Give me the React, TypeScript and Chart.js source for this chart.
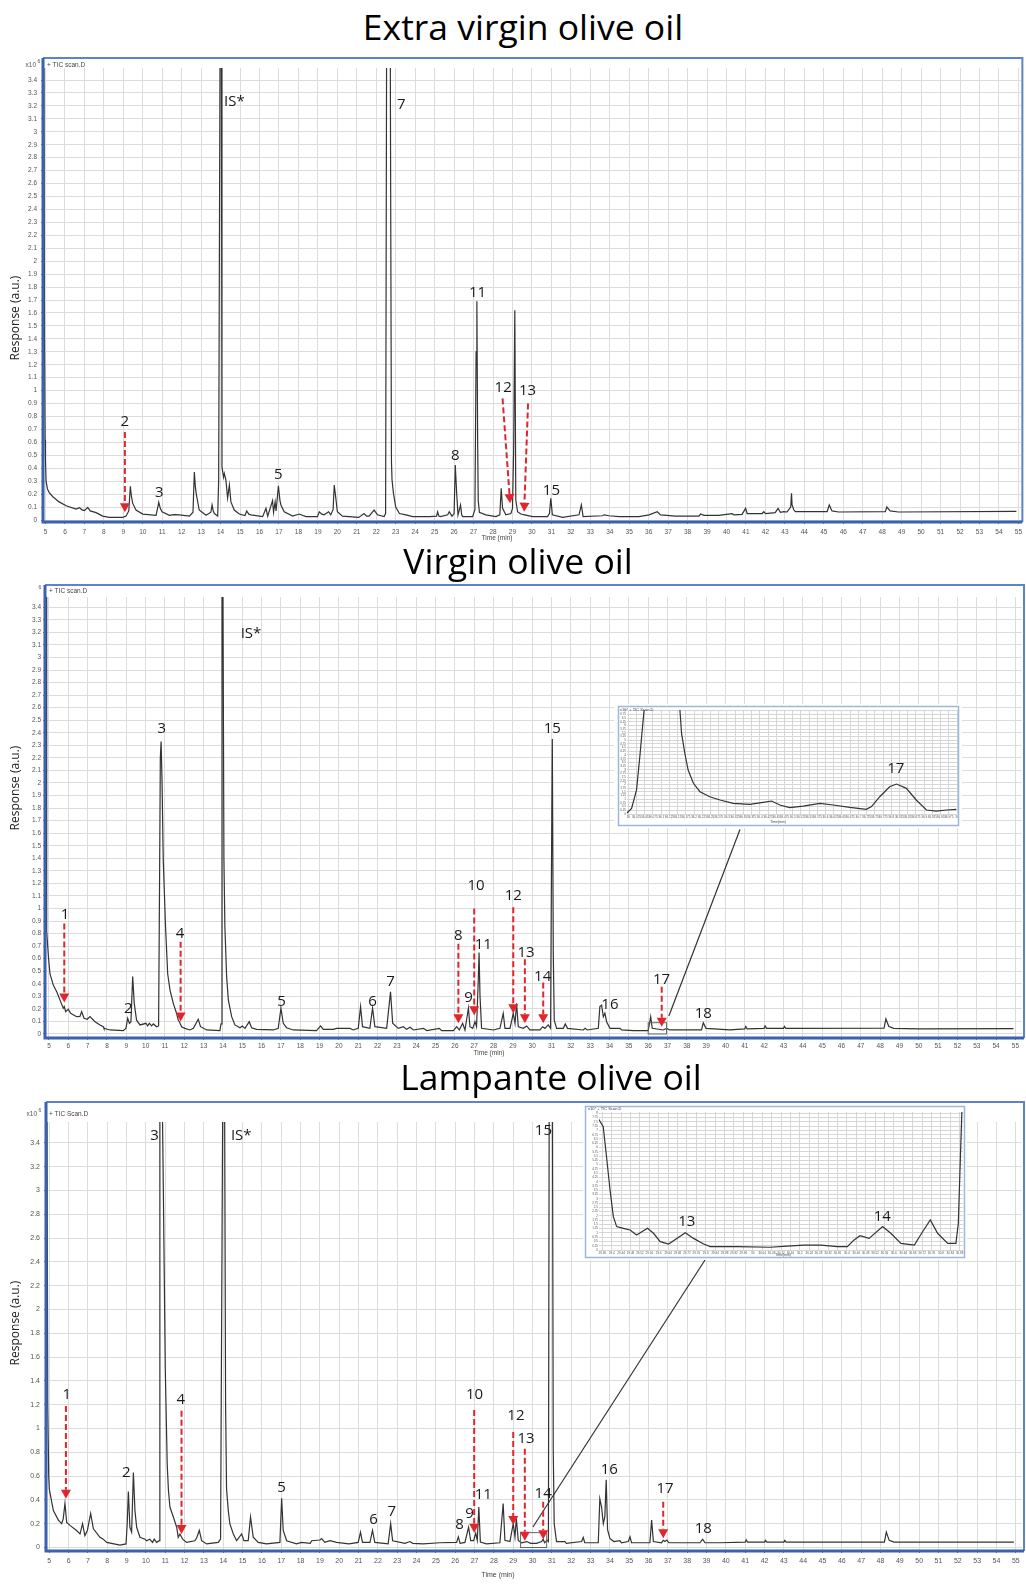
import React, { useEffect, useRef } from 'react';
import { Chart, registerables } from 'chart.js';
Chart.register(...registerables);

type Pt = [number, number];

// ---------------- DATA ----------------
const panelTitles = ['Extra virgin olive oil', 'Virgin olive oil', 'Lampante olive oil'];
const yAxisTitle = 'Response (a.u.)';
const xAxisTitle = 'Time (min)';

const evooTrace: Pt[] = [
  [4.92, 3.6], [4.95, 1.4], [4.98, 0.62], [5.0, 0.46], [5.03, 0.3], [5.1, 0.24], [5.2, 0.21], [5.38, 0.18],
  [5.7, 0.14], [6.06, 0.11], [6.57, 0.085], [6.75, 0.095], [6.88, 0.078], [7.0, 0.072], [7.17, 0.097],
  [7.3, 0.07], [7.6, 0.057], [7.94, 0.03], [8.28, 0.02], [8.97, 0.02], [9.14, 0.03], [9.28, 0.07],
  [9.36, 0.26], [9.42, 0.18], [9.48, 0.13], [9.65, 0.077], [10.0, 0.046], [10.68, 0.036], [10.76, 0.09],
  [10.82, 0.137], [10.9, 0.09], [10.99, 0.064], [11.37, 0.036], [11.6, 0.042], [11.88, 0.04], [12.4, 0.03],
  [12.58, 0.06], [12.65, 0.37], [12.7, 0.26], [12.75, 0.2], [12.9, 0.077], [13.25, 0.036], [13.5, 0.06],
  [13.56, 0.116], [13.62, 0.07], [13.68, 0.05], [13.85, 0.03], [13.9, 0.31], [13.97, 3.6], [14.04, 3.6],
  [14.07, 0.41], [14.12, 0.36], [14.15, 0.33], [14.19, 0.36], [14.27, 0.31], [14.36, 0.17], [14.45, 0.27],
  [14.53, 0.14], [14.7, 0.077], [14.96, 0.046], [15.25, 0.035], [15.34, 0.07], [15.45, 0.045], [15.56, 0.04],
  [16.16, 0.026], [16.33, 0.09], [16.42, 0.03], [16.67, 0.15], [16.72, 0.06], [16.8, 0.14], [16.85, 0.07],
  [16.97, 0.265], [17.05, 0.15], [17.1, 0.116], [17.27, 0.064], [17.7, 0.03], [18.04, 0.046], [18.38, 0.026],
  [18.98, 0.026], [19.07, 0.064], [19.2, 0.045], [19.32, 0.04], [19.55, 0.064], [19.66, 0.04], [19.78, 0.08],
  [19.84, 0.27], [19.92, 0.17], [20.0, 0.064], [20.26, 0.03], [21.1, 0.02], [21.37, 0.05], [21.5, 0.03],
  [21.63, 0.03], [21.89, 0.077], [22.06, 0.04], [22.4, 0.026], [22.48, 0.05], [22.53, 3.6], [22.72, 3.6],
  [22.78, 0.45], [22.81, 0.31], [22.88, 0.21], [23.0, 0.1], [23.19, 0.05], [23.53, 0.04], [23.87, 0.026],
  [24.73, 0.026], [25.1, 0.03], [25.15, 0.064], [25.22, 0.03], [25.3, 0.026], [25.67, 0.04], [25.75, 0.064],
  [25.89, 0.03], [26.0, 0.05], [26.06, 0.425], [26.13, 0.21], [26.2, 0.04], [26.33, 0.116], [26.39, 0.04],
  [26.44, 0.026], [26.95, 0.026], [27.07, 0.08], [27.13, 1.3], [27.17, 1.69], [27.21, 0.6], [27.24, 0.15],
  [27.3, 0.06], [27.63, 0.04], [28.15, 0.026], [28.35, 0.04], [28.42, 0.245], [28.49, 0.09], [28.66, 0.04],
  [28.92, 0.05], [29.0, 0.09], [29.06, 0.54], [29.12, 1.62], [29.17, 0.155], [29.26, 0.064], [29.43, 0.046],
  [29.63, 0.04], [30.03, 0.026], [30.8, 0.026], [30.9, 0.05], [30.97, 0.167], [31.05, 0.04], [31.57, 0.02],
  [32.42, 0.04], [32.54, 0.116], [32.63, 0.026], [33.62, 0.033], [33.71, 0.04], [33.96, 0.033], [34.48, 0.026],
  [35.5, 0.026], [36.02, 0.04], [36.44, 0.064], [36.61, 0.04], [37.38, 0.03], [38.58, 0.03], [38.67, 0.046],
  [38.84, 0.036], [39.26, 0.036], [39.6, 0.036], [40.29, 0.05], [40.38, 0.04], [40.8, 0.044], [40.98, 0.09],
  [41.06, 0.05], [41.83, 0.05], [41.92, 0.064], [42.0, 0.05], [42.5, 0.057], [42.65, 0.09], [42.77, 0.06],
  [42.94, 0.064], [43.11, 0.062], [43.3, 0.1], [43.34, 0.206], [43.37, 0.116], [43.46, 0.077], [43.54, 0.064],
  [45.17, 0.064], [45.28, 0.116], [45.42, 0.07], [45.76, 0.062], [48.16, 0.064], [48.24, 0.1], [48.41, 0.07],
  [48.84, 0.062], [54.9, 0.067],
];

const vooTrace: Pt[] = [
  [4.86, 3.6], [4.88, 0.82], [4.97, 0.616], [5.05, 0.48], [5.22, 0.39], [5.4, 0.337], [5.57, 0.27],
  [5.74, 0.205], [5.79, 0.218], [5.86, 0.178], [6.0, 0.197], [6.12, 0.165], [6.43, 0.138], [6.6, 0.14],
  [6.69, 0.178], [6.81, 0.125], [6.98, 0.117], [7.12, 0.138], [7.38, 0.098], [7.64, 0.072], [7.81, 0.058],
  [7.84, 0.045], [8.16, 0.032], [8.84, 0.027], [8.98, 0.045], [9.07, 0.125], [9.16, 0.085], [9.24, 0.098],
  [9.33, 0.457], [9.41, 0.244], [9.53, 0.11], [9.71, 0.072], [10.02, 0.085], [10.1, 0.064], [10.19, 0.085],
  [10.31, 0.064], [10.4, 0.08], [10.57, 0.058], [10.67, 0.064], [10.72, 1.2], [10.76, 2.2], [10.8, 2.33],
  [10.85, 2.0], [10.91, 1.39], [11.03, 0.855], [11.14, 0.48], [11.26, 0.35], [11.43, 0.244], [11.6, 0.165],
  [11.69, 0.11], [11.74, 0.1], [11.78, 0.085], [11.86, 0.058], [12.03, 0.045], [12.29, 0.032], [12.47, 0.045],
  [12.72, 0.117], [12.84, 0.058], [13.16, 0.032], [13.84, 0.027], [13.9, 0.08], [13.95, 3.6], [14.0, 3.6],
  [14.05, 1.39], [14.1, 0.855], [14.19, 0.457], [14.28, 0.27], [14.45, 0.138], [14.62, 0.072], [14.88, 0.05],
  [15.0, 0.064], [15.14, 0.045], [15.36, 0.098], [15.48, 0.05], [15.74, 0.037], [16.6, 0.032], [16.86, 0.045],
  [17.0, 0.205], [17.12, 0.085], [17.29, 0.05], [17.64, 0.032], [18.84, 0.027], [19.05, 0.064], [19.19, 0.037],
  [19.7, 0.037], [19.88, 0.045], [20.57, 0.045], [20.74, 0.032], [21.0, 0.045], [21.12, 0.218], [21.22, 0.058],
  [21.6, 0.045], [21.74, 0.205], [21.86, 0.058], [22.47, 0.045], [22.67, 0.337], [22.78, 0.085], [23.07, 0.045],
  [23.33, 0.058], [23.5, 0.037], [23.68, 0.053], [23.85, 0.032], [24.37, 0.045], [24.55, 0.027], [25.19, 0.045],
  [25.32, 0.027], [25.92, 0.027], [26.09, 0.058], [26.23, 0.032], [26.4, 0.085], [26.52, 0.032], [26.7, 0.205],
  [26.78, 0.058], [26.92, 0.045], [27.04, 0.098], [27.12, 0.058], [27.21, 0.43], [27.25, 0.65], [27.3, 0.3],
  [27.38, 0.045], [27.99, 0.032], [28.33, 0.045], [28.5, 0.165], [28.59, 0.045], [28.85, 0.045], [29.02, 0.165],
  [29.11, 0.085], [29.19, 0.244], [29.28, 0.058], [29.54, 0.045], [29.71, 0.064], [29.88, 0.032], [30.4, 0.032],
  [30.54, 0.058], [30.66, 0.045], [30.83, 0.072], [30.95, 0.045], [31.0, 1.4], [31.04, 2.35], [31.09, 0.64],
  [31.14, 0.11], [31.26, 0.045], [31.61, 0.045], [31.71, 0.08], [31.83, 0.045], [32.64, 0.032], [32.74, 0.045],
  [32.85, 0.032], [33.42, 0.045], [33.5, 0.218], [33.59, 0.23], [33.68, 0.138], [33.76, 0.165], [33.85, 0.098],
  [34.02, 0.045], [34.54, 0.045], [34.63, 0.032], [35.23, 0.027], [36.0, 0.027], [36.13, 0.138], [36.21, 0.045],
  [36.78, 0.032], [36.95, 0.045], [37.12, 0.032], [38.76, 0.032], [38.85, 0.09], [38.99, 0.045], [40.23, 0.032],
  [41.0, 0.04], [41.05, 0.06], [41.12, 0.04], [42.0, 0.045], [42.05, 0.065], [42.12, 0.045], [43.0, 0.045],
  [43.05, 0.06], [43.12, 0.045], [48.2, 0.047], [48.3, 0.12], [48.45, 0.06], [48.7, 0.045], [50.0, 0.04],
  [54.9, 0.042],
];

const lampTrace: Pt[] = [
  [4.88, 3.7], [4.92, 1.2], [4.97, 0.6], [5.0, 0.49], [5.21, 0.31], [5.47, 0.23], [5.64, 0.2], [5.72, 0.24],
  [5.81, 0.37], [5.9, 0.21], [6.07, 0.186], [6.41, 0.143], [6.59, 0.114], [6.72, 0.2], [6.84, 0.1],
  [6.97, 0.143], [7.14, 0.286], [7.28, 0.157], [7.62, 0.086], [7.79, 0.07], [7.97, 0.043], [8.66, 0.02],
  [8.97, 0.03], [9.03, 0.2], [9.09, 0.47], [9.17, 0.17], [9.26, 0.13], [9.35, 0.63], [9.43, 0.31], [9.52, 0.17],
  [9.69, 0.086], [9.95, 0.07], [10.03, 0.057], [10.2, 0.07], [10.34, 0.043], [10.43, 0.07], [10.55, 0.043],
  [10.69, 0.057], [10.72, 3.7], [10.85, 3.7], [10.9, 3.0], [11.0, 1.5], [11.1, 0.7], [11.16, 0.49], [11.24, 0.34],
  [11.41, 0.26], [11.59, 0.17], [11.67, 0.086], [11.76, 0.114], [11.9, 0.07], [12.1, 0.043], [12.53, 0.057],
  [12.62, 0.08], [12.76, 0.143], [12.88, 0.057], [13.14, 0.03], [13.74, 0.043], [13.86, 0.07], [13.97, 3.7],
  [14.07, 3.7], [14.12, 1.2], [14.17, 0.49], [14.26, 0.31], [14.34, 0.2], [14.52, 0.114], [14.69, 0.057],
  [14.95, 0.114], [15.07, 0.057], [15.29, 0.057], [15.41, 0.257], [15.55, 0.086], [15.81, 0.043], [16.24, 0.03],
  [16.93, 0.043], [17.02, 0.414], [17.1, 0.143], [17.28, 0.057], [17.79, 0.03], [18.05, 0.043], [18.5, 0.035],
  [18.57, 0.057], [19.0, 0.063], [19.09, 0.075], [19.25, 0.043], [19.52, 0.057], [19.86, 0.043], [20.5, 0.03],
  [20.98, 0.043], [21.1, 0.129], [21.2, 0.043], [21.59, 0.043], [21.72, 0.143], [21.84, 0.043], [22.53, 0.03],
  [22.66, 0.2], [22.76, 0.057], [23.4, 0.035], [23.66, 0.05], [23.8, 0.035], [24.34, 0.03], [25.2, 0.04],
  [26.07, 0.043], [26.16, 0.09], [26.25, 0.035], [26.5, 0.043], [26.69, 0.17], [26.8, 0.057], [26.95, 0.057],
  [27.06, 0.12], [27.14, 0.06], [27.22, 0.34], [27.3, 0.045], [27.62, 0.03], [28.31, 0.04], [28.48, 0.37],
  [28.57, 0.06], [28.83, 0.05], [29.0, 0.2], [29.09, 0.09], [29.16, 0.245], [29.26, 0.06], [29.43, 0.04],
  [29.7, 0.05], [29.9, 0.035], [30.21, 0.035], [30.47, 0.05], [30.55, 0.07], [30.62, 0.04], [30.76, 0.06],
  [30.82, 0.05], [30.86, 3.7], [31.03, 3.7], [31.07, 0.82], [31.12, 0.2], [31.24, 0.05], [31.67, 0.05],
  [31.75, 0.035], [32.54, 0.05], [32.62, 0.085], [32.7, 0.04], [33.4, 0.04], [33.48, 0.41], [33.57, 0.34],
  [33.66, 0.2], [33.74, 0.26], [33.81, 0.57], [33.88, 0.15], [34.0, 0.077], [34.2, 0.05], [34.52, 0.058],
  [34.6, 0.04], [34.95, 0.05], [35.04, 0.09], [35.12, 0.04], [36.07, 0.04], [36.16, 0.23], [36.25, 0.05],
  [36.67, 0.04], [36.76, 0.06], [36.85, 0.05], [36.95, 0.062], [37.05, 0.04], [38.66, 0.04], [38.8, 0.07],
  [38.92, 0.04], [39.69, 0.04], [41.0, 0.045], [41.05, 0.065], [41.12, 0.045], [42.0, 0.045], [42.05, 0.06],
  [42.12, 0.045], [43.0, 0.045], [43.05, 0.06], [43.12, 0.045], [48.2, 0.045], [48.3, 0.13], [48.45, 0.06],
  [48.7, 0.045], [54.9, 0.045],
];

// zoomed insets (inset units)
const vooInsetTrace: Pt[] = [
  [35.995, 0.05], [36.01, 0.38], [36.025, 1.63], [36.035, 3.88], [36.044, 6.1], [36.052, 8.0], [36.1, 14],
  [36.15, 8.5], [36.157, 7.05], [36.162, 5.46], [36.172, 4.1], [36.182, 2.98], [36.198, 2.08], [36.218, 1.51],
  [36.248, 1.17], [36.279, 0.95], [36.319, 0.72], [36.37, 0.65], [36.41, 0.79], [36.436, 0.88], [36.461, 0.61],
  [36.491, 0.43], [36.532, 0.54], [36.583, 0.72], [36.623, 0.61], [36.674, 0.45], [36.724, 0.32], [36.74, 0.5],
  [36.765, 1.17], [36.795, 1.85], [36.816, 2.03], [36.846, 1.74], [36.876, 0.95], [36.907, 0.27], [36.937, 0.2],
  [36.968, 0.27], [36.998, 0.32],
];

const lampInsetTrace: Pt[] = [
  [29.336, 7.41], [29.347, 7.61], [29.364, 7.22], [29.378, 5.46], [29.393, 3.51], [29.407, 1.95], [29.421, 1.37],
  [29.45, 1.27], [29.478, 1.17], [29.506, 0.88], [29.528, 1.07], [29.552, 1.27], [29.578, 0.98], [29.606, 0.49],
  [29.642, 0.35], [29.677, 0.68], [29.713, 1.01], [29.748, 0.68], [29.791, 0.35], [29.819, 0.2], [29.933, 0.2],
  [30.075, 0.16], [30.146, 0.23], [30.217, 0.29], [30.289, 0.29], [30.36, 0.2], [30.402, 0.2], [30.431, 0.59],
  [30.456, 0.84], [30.495, 0.68], [30.552, 1.37], [30.587, 0.98], [30.63, 0.39], [30.687, 0.29], [30.722, 1.07],
  [30.755, 1.76], [30.786, 0.98], [30.829, 0.39], [30.864, 0.39], [30.874, 1.56], [30.883, 5.46], [30.889, 8.0],
  [30.895, 9.0],
];

// peak labels: [text, time, response]
const evooLabels: [string, number, number][] = [
  ['2', 9.08, 0.76], ['3', 10.85, 0.214], ['IS*', 14.71, 3.23], ['5', 16.97, 0.348], ['7', 23.29, 3.21],
  ['8', 26.06, 0.495], ['11', 27.2, 1.76], ['12', 28.52, 1.02], ['13', 29.77, 1.0], ['15', 31.0, 0.227],
];
const vooLabels: [string, number, number][] = [
  ['1', 5.83, 0.95], ['2', 9.1, 0.2], ['3', 10.83, 2.43], ['4', 11.78, 0.8], ['IS*', 15.45, 3.19],
  ['5', 17.03, 0.26], ['6', 21.74, 0.26], ['7', 22.67, 0.42], ['8', 26.18, 0.78], ['9', 26.7, 0.29],
  ['10', 27.09, 1.18], ['11', 27.47, 0.71], ['12', 29.02, 1.1], ['13', 29.68, 0.65], ['14', 30.54, 0.46],
  ['15', 31.04, 2.43], ['16', 34.02, 0.23], ['17', 36.69, 0.43], ['18', 38.85, 0.165],
];
const lampLabels: [string, number, number][] = [
  ['1', 5.9, 1.28], ['2', 8.98, 0.63], ['3', 10.44, 3.46], ['4', 11.8, 1.24], ['IS*', 14.93, 3.46],
  ['5', 17.02, 0.5], ['6', 21.78, 0.23], ['7', 22.72, 0.3], ['8', 26.22, 0.19], ['9', 26.74, 0.28],
  ['10', 27.0, 1.28], ['11', 27.45, 0.44], ['12', 29.14, 1.11], ['13', 29.66, 0.91], ['14', 30.55, 0.455],
  ['15', 30.56, 3.5], ['16', 33.97, 0.65], ['17', 36.85, 0.49], ['18', 38.83, 0.16],
];
const vooInsetLabels: [string, number, number][] = [['17', 36.814, 3.1]];
const lampInsetLabels: [string, number, number][] = [['13', 29.719, 1.66], ['14', 30.551, 1.95]];

// red dashed arrows: [tStart, rStart, tTip, rTip]
const evooArrows: [number, number, number, number][] = [
  [9.08, 0.68, 9.08, 0.06], [28.49, 0.94, 28.88, 0.13], [29.8, 0.9, 29.6, 0.064],
];
const vooArrows: [number, number, number, number][] = [
  [5.79, 0.88, 5.79, 0.25], [11.81, 0.735, 11.81, 0.1], [26.18, 0.72, 26.18, 0.085], [27.0, 1.0, 27.0, 0.15],
  [29.02, 1.01, 29.02, 0.165], [29.62, 0.595, 29.62, 0.085], [30.57, 0.41, 30.57, 0.085], [36.7, 0.377, 36.7, 0.058],
];
const lampArrows: [number, number, number, number][] = [
  [5.86, 1.19, 5.86, 0.41], [11.84, 1.15, 11.84, 0.114], [26.98, 1.155, 26.98, 0.125], [29.0, 0.97, 29.0, 0.19],
  [29.6, 0.83, 29.6, 0.057], [30.55, 0.385, 30.55, 0.07], [36.76, 0.385, 36.76, 0.077],
];

// zoom boxes [t0, r0, t1, r1] and connector lines [t0, r0, t1, r1]
const vooZoomBox: [number, number, number, number][] = [[36.0, 0.0, 36.95, 0.09]];
const vooConnector: [number, number, number, number][] = [[37.07, 0.143, 40.75, 1.63]];
const lampZoomBox: [number, number, number, number][] = [[29.38, 0.0, 30.73, 0.125]];
const lampConnector: [number, number, number, number][] = [[30.02, 0.172, 38.92, 2.416]];

// ---------------- STYLE / LAYOUT ----------------
const FONT = "'Open Sans', 'Noto Sans', sans-serif";
const TICK_FONT = "'Liberation Sans', Arial, sans-serif";
const RED = '#e0262c';
const TRACE = '#333333';

type Cfg = {
  left: number; top: number; width: number; height: number;
  area: { left: number; top: number; right: number; bottom: number };
  xMin: number; xMax: number; yMin: number; yMax: number; xStep: number; yStep: number;
  trace: Pt[]; labels: [string, number, number][];
  arrows?: [number, number, number, number][];
  boxes?: [number, number, number, number][];
  connectors?: [number, number, number, number][];
  frame: { l: number; t: number; r: number; b: number; inset?: boolean };
  tickSize: number; tickPad: number; tickLen: number; gridColor: string;
  labelSize: number; background?: string;
  draw: (ctx: CanvasRenderingContext2D) => void;
};

function fmt(v: number) {
  return String(Math.round(v * 1000) / 1000);
}

function drawArrow(ctx: CanvasRenderingContext2D, x0: number, y0: number, x1: number, y1: number) {
  const dx = x1 - x0, dy = y1 - y0;
  const len = Math.hypot(dx, dy) || 1;
  const ux = dx / len, uy = dy / len;
  const hl = 9, hw = 5;
  const bx = x1 - ux * hl, by = y1 - uy * hl;
  ctx.save();
  ctx.strokeStyle = RED;
  ctx.lineWidth = 2;
  ctx.setLineDash([6, 3]);
  ctx.beginPath(); ctx.moveTo(x0, y0); ctx.lineTo(bx, by); ctx.stroke();
  ctx.setLineDash([]);
  ctx.fillStyle = RED;
  ctx.beginPath();
  ctx.moveTo(x1, y1);
  ctx.lineTo(bx - uy * hw, by + ux * hw);
  ctx.lineTo(bx + uy * hw, by - ux * hw);
  ctx.closePath(); ctx.fill();
  ctx.restore();
}

function text(ctx: CanvasRenderingContext2D, s: string, x: number, y: number, font: string, align: CanvasTextAlign = 'left', color = '#444') {
  ctx.save();
  ctx.font = font; ctx.fillStyle = color; ctx.textAlign = align; ctx.textBaseline = 'middle';
  ctx.fillText(s, x, y);
  ctx.restore();
}

function makePlugin(cfg: Cfg) {
  return {
    id: 'decor',
    beforeDraw(chart: any) {
      if (cfg.background) {
        const c = chart.ctx;
        c.save(); c.fillStyle = cfg.background; c.fillRect(0, 0, chart.width, chart.height); c.restore();
      }
    },
    afterDraw(chart: any) {
      const ctx: CanvasRenderingContext2D = chart.ctx;
      const xs = chart.scales.x, ys = chart.scales.y;
      const px = (v: number) => xs.getPixelForValue(v);
      const py = (v: number) => ys.getPixelForValue(v);
      const a = chart.chartArea;
      (cfg.boxes || []).forEach(([t0, r0, t1, r1]) => {
        ctx.save(); ctx.strokeStyle = '#666'; ctx.lineWidth = 1;
        ctx.strokeRect(px(t0), py(r1), px(t1) - px(t0), py(r0) - py(r1));
        ctx.restore();
      });
      (cfg.connectors || []).forEach(([t0, r0, t1, r1]) => {
        ctx.save(); ctx.strokeStyle = '#333'; ctx.lineWidth = 1.2;
        ctx.beginPath(); ctx.moveTo(px(t0), py(r0)); ctx.lineTo(px(t1), py(r1)); ctx.stroke();
        ctx.restore();
      });
      (cfg.arrows || []).forEach(([t0, r0, t1, r1]) => drawArrow(ctx, px(t0), py(r0), px(t1), py(r1)));
      cfg.labels.forEach(([s, t, r]) => text(ctx, s, px(t), py(r), `${cfg.labelSize}px ${FONT}`, 'center', '#1a1a1a'));
      // frame
      const f = cfg.frame;
      const L = a.left + f.l, T = a.top + f.t, R = a.right + f.r, B = a.bottom + f.b;
      ctx.save();
      if (f.inset) {
        ctx.strokeStyle = '#9db7da'; ctx.lineWidth = 1.5;
        ctx.strokeRect(L, T, R - L, B - T);
      } else {
        ctx.strokeStyle = '#5a85cc'; ctx.lineWidth = 2;
        ctx.beginPath(); ctx.moveTo(L, T); ctx.lineTo(R, T); ctx.lineTo(R, B); ctx.stroke();
        ctx.strokeStyle = '#3a62b0'; ctx.lineWidth = 3;
        ctx.beginPath(); ctx.moveTo(L, T); ctx.lineTo(L, B); ctx.lineTo(R, B); ctx.stroke();
      }
      ctx.restore();
      cfg.draw(ctx);
    },
  };
}

function TraceChart({ cfg }: { cfg: Cfg }) {
  const ref = useRef<HTMLCanvasElement>(null);
  useEffect(() => {
    const W = cfg.width, H = cfg.height, ar = cfg.area;
    const tickCommon = {
      autoSkip: false, maxRotation: 0, minRotation: 0, includeBounds: false,
      color: '#555', padding: cfg.tickPad,
      font: { size: cfg.tickSize, family: TICK_FONT },
      callback: (v: any) => fmt(Number(v)),
    };
    const gridCommon = {
      color: cfg.gridColor, lineWidth: 1, drawTicks: cfg.tickLen > 0, tickLength: cfg.tickLen, tickColor: '#777',
    };
    const chart = new Chart(ref.current as HTMLCanvasElement, {
      type: 'line',
      data: {
        datasets: [{
          data: cfg.trace.map(([x, y]) => ({ x, y })),
          borderColor: TRACE, borderWidth: 1.2, pointRadius: 0, tension: 0, fill: false,
        }],
      },
      options: {
        animation: false, responsive: false, devicePixelRatio: 1, events: [],
        layout: { autoPadding: false, padding: { top: ar.top, right: W - ar.right, left: 0, bottom: 0 } },
        plugins: { legend: { display: false }, tooltip: { enabled: false }, title: { display: false } },
        scales: {
          x: {
            type: 'linear', min: cfg.xMin, max: cfg.xMax,
            afterFit: (s: any) => { s.height = H - ar.bottom; },
            ticks: { ...tickCommon, stepSize: cfg.xStep },
            grid: gridCommon, border: { display: false },
          },
          y: {
            type: 'linear', min: cfg.yMin, max: cfg.yMax,
            afterFit: (s: any) => { s.width = ar.left; },
            ticks: { ...tickCommon, stepSize: cfg.yStep },
            grid: gridCommon, border: { display: false },
          },
        },
      } as any,
      plugins: [makePlugin(cfg) as any],
    });
    return () => chart.destroy();
  }, []);
  return (
    <canvas ref={ref} width={cfg.width} height={cfg.height}
      style={{ position: 'absolute', left: cfg.left, top: cfg.top, width: cfg.width, height: cfg.height }} />
  );
}

function header(ctx: CanvasRenderingContext2D, x10: boolean, xr: number, y: number, tic: string, tx: number) {
  if (x10) text(ctx, 'x10', xr, y, `6.5px ${TICK_FONT}`, 'right', '#555');
  text(ctx, '6', xr + 1.5, y - 3, `5px ${TICK_FONT}`, 'left', '#555');
  text(ctx, tic, tx, y, `6.5px ${TICK_FONT}`, 'left', '#444');
}
function yTitle(ctx: CanvasRenderingContext2D, x: number, y: number) {
  ctx.save(); ctx.translate(x, y); ctx.rotate(-Math.PI / 2);
  text(ctx, yAxisTitle, 0, 0, `12px ${FONT}`, 'center', '#222');
  ctx.restore();
}

const evooCfg: Cfg = {
  left: 0, top: 55, width: 1026, height: 495,
  area: { left: 44, top: 13, right: 1023, bottom: 466 },
  xMin: 4.923, xMax: 55.154, yMin: -0.0077, yMax: 3.493, xStep: 1, yStep: 0.1,
  trace: evooTrace, labels: evooLabels, arrows: evooArrows,
  frame: { l: -1, t: -10, r: 1, b: 1 },
  tickSize: 6.5, tickPad: 4, tickLen: 3, gridColor: '#dcdcdc', labelSize: 15,
  draw: (ctx) => {
    header(ctx, true, 36, 10, '+ TIC scan.D', 47);
    yTitle(ctx, 16, 263);
    text(ctx, xAxisTitle, 497, 483, `6.5px ${TICK_FONT}`, 'center', '#444');
  },
};

const vooCfg: Cfg = {
  left: 0, top: 575, width: 1026, height: 490,
  area: { left: 46, top: 22, right: 1022, bottom: 462 },
  xMin: 4.845, xMax: 55.34, yMin: -0.024, yMax: 3.482, xStep: 1, yStep: 0.1,
  trace: vooTrace, labels: vooLabels, arrows: vooArrows, boxes: vooZoomBox, connectors: vooConnector,
  frame: { l: -1, t: -12, r: 2, b: 1 },
  tickSize: 6.5, tickPad: 2, tickLen: 3, gridColor: '#dcdcdc', labelSize: 15,
  draw: (ctx) => {
    header(ctx, false, 37, 16, '+ TIC scan.D', 49);
    yTitle(ctx, 16, 213);
    text(ctx, xAxisTitle, 489, 478, `6.5px ${TICK_FONT}`, 'center', '#444');
  },
};

const lampCfg: Cfg = {
  left: 0, top: 1090, width: 1026, height: 494,
  area: { left: 47, top: 32, right: 1022, bottom: 460 },
  xMin: 4.881, xMax: 55.32, yMin: -0.021, yMax: 3.576, xStep: 1, yStep: 0.2,
  trace: lampTrace, labels: lampLabels, arrows: lampArrows, boxes: lampZoomBox, connectors: lampConnector,
  frame: { l: -1, t: -20, r: 2, b: 1 },
  tickSize: 7, tickPad: 4, tickLen: 3, gridColor: '#dcdcdc', labelSize: 15,
  draw: (ctx) => {
    header(ctx, true, 37, 24, '+ TIC Scan.D', 49);
    yTitle(ctx, 16, 233);
    text(ctx, xAxisTitle, 498, 485, `7px ${TICK_FONT}`, 'center', '#444');
  },
};

const vooInsetCfg: Cfg = {
  left: 614, top: 704, width: 348, height: 124,
  area: { left: 13, top: 6, right: 343, bottom: 110 },
  xMin: 35.996, xMax: 37.0, yMin: 0, yMax: 7.05, xStep: 0.025, yStep: 0.25,
  trace: vooInsetTrace, labels: vooInsetLabels,
  frame: { l: -8.5, t: -3.5, r: 1.5, b: 11.5, inset: true },
  tickSize: 3, tickPad: 1, tickLen: 0, gridColor: '#d6d6d6', labelSize: 15, background: '#ffffff',
  draw: (ctx) => {
    text(ctx, 'x10\u2074 + TIC Scan.D', 6, 6, `4px ${TICK_FONT}`, 'left', '#444');
    text(ctx, 'Time(min)', 164, 118, `3.5px ${TICK_FONT}`, 'center', '#444');
  },
};

const lampInsetCfg: Cfg = {
  left: 583, top: 1104, width: 384, height: 156,
  area: { left: 16, top: 8, right: 380, bottom: 146 },
  xMin: 29.346, xMax: 30.894, yMin: 0, yMax: 8.08, xStep: 0.04, yStep: 0.25,
  trace: lampInsetTrace, labels: lampInsetLabels,
  frame: { l: -13.5, t: -5.5, r: 1.5, b: 7.5, inset: true },
  tickSize: 3, tickPad: 1, tickLen: 0, gridColor: '#d6d6d6', labelSize: 15, background: '#ffffff',
  draw: (ctx) => {
    text(ctx, 'x10\u2074 + TIC Scan.D', 5, 5, `4px ${TICK_FONT}`, 'left', '#444');
    text(ctx, 'Time(min)', 200, 151, `3.5px ${TICK_FONT}`, 'center', '#444');
  },
};

const titleStyle = (cx: number, cy: number): React.CSSProperties => ({
  position: 'absolute', left: cx, top: cy, transform: 'translate(-50%, -50%)',
  font: `35.5px ${FONT}`, color: '#000', whiteSpace: 'nowrap', lineHeight: 1,
});

export default function App() {
  return (
    <div style={{ position: 'absolute', left: 0, top: 0, width: 1026, height: 1584, background: '#fff', overflow: 'hidden' }}>
      <TraceChart cfg={evooCfg} />
      <TraceChart cfg={vooCfg} />
      <TraceChart cfg={lampCfg} />
      <TraceChart cfg={vooInsetCfg} />
      <TraceChart cfg={lampInsetCfg} />
      <div style={titleStyle(523, 27)}>{panelTitles[0]}</div>
      <div style={titleStyle(518, 561)}>{panelTitles[1]}</div>
      <div style={titleStyle(551, 1077)}>{panelTitles[2]}</div>
    </div>
  );
}
